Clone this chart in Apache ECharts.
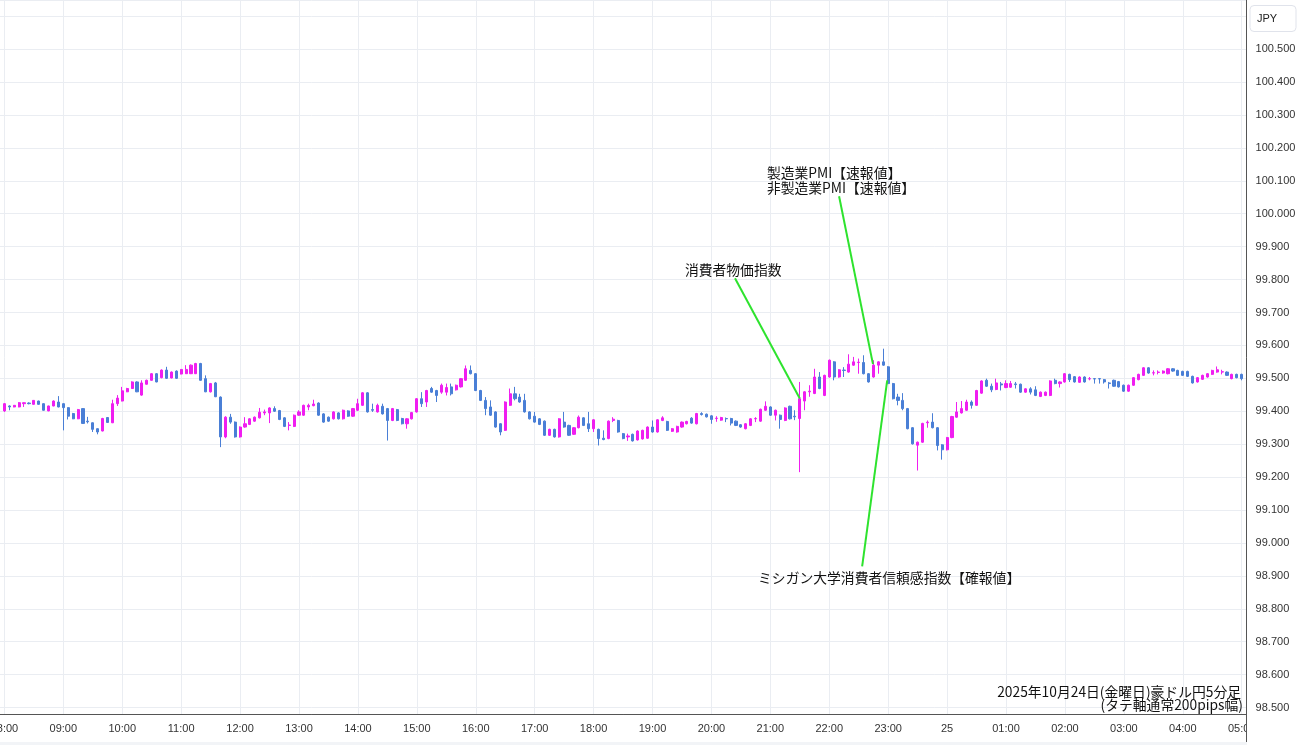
<!DOCTYPE html>
<html>
<head>
<meta charset="utf-8">
<script src="https://cdn.jsdelivr.net/npm/echarts@6/dist/echarts.min.js"></script>
<style>
  html, body { margin: 0; padding: 0; background: #fff; }
  #main { width: 1300px; height: 745px; }
</style>
</head>
<body>
<div id="main"></div>
<script>
// 豪ドル円 5分足 2025/10/24 08:00 〜 10/25 05:00 (index 0 = 08:00)
const hourLabels = ['08:00','09:00','10:00','11:00','12:00','13:00','14:00','15:00','16:00','17:00','18:00','19:00',
  '20:00','21:00','22:00','23:00','25','01:00','02:00','03:00','04:00','05:00'];

const opens = [
  99.401,99.416,99.413,99.413,99.423,99.425,99.421,99.431,99.423,99.401,99.416,99.428,
  99.423,99.411,99.393,99.377,99.408,99.370,99.365,99.347,99.340,99.381,99.365,99.423,
  99.431,99.459,99.469,99.489,99.449,99.482,99.494,99.514,99.502,99.525,99.501,99.522,
  99.513,99.514,99.514,99.514,99.545,99.499,99.459,99.486,99.443,99.322,99.382,99.367,
  99.322,99.352,99.360,99.370,99.380,99.395,99.395,99.408,99.402,99.380,99.357,99.354,
  99.388,99.388,99.413,99.417,99.425,99.392,99.382,99.377,99.395,99.377,99.401,99.385,
  99.403,99.418,99.456,99.405,99.398,99.415,99.408,99.372,99.405,99.378,99.362,99.377,
  99.398,99.438,99.428,99.469,99.463,99.458,99.458,99.474,99.465,99.474,99.494,99.524,
  99.514,99.463,99.433,99.413,99.398,99.362,99.342,99.418,99.453,99.443,99.433,99.398,
  99.385,99.377,99.370,99.327,99.345,99.322,99.367,99.357,99.330,99.350,99.380,99.362,
  99.347,99.345,99.318,99.317,99.372,99.372,99.332,99.322,99.330,99.313,99.316,99.318,
  99.352,99.337,99.372,99.369,99.339,99.337,99.352,99.362,99.379,99.362,99.393,99.391,
  99.386,99.378,99.373,99.378,99.378,99.370,99.359,99.347,99.357,99.377,99.370,99.403,
  99.413,99.388,99.388,99.372,99.415,99.385,99.378,99.431,99.459,99.454,99.504,99.448,
  99.504,99.550,99.504,99.525,99.519,99.540,99.548,99.548,99.514,99.504,99.540,99.550,
  99.535,99.484,99.443,99.433,99.408,99.350,99.297,99.306,99.365,99.367,99.350,99.298,
  99.283,99.320,99.382,99.395,99.403,99.428,99.418,99.455,99.494,99.476,99.466,99.483,
  99.472,99.473,99.483,99.482,99.458,99.468,99.465,99.445,99.448,99.448,99.494,99.484,
  99.489,99.512,99.505,99.488,99.504,99.498,99.499,99.499,99.496,99.486,99.494,99.490,
  99.479,99.461,99.479,99.496,99.509,99.532,99.516,99.518,99.516,99.514,99.529,99.524,
  99.521,99.521,99.506,99.489,99.497,99.504,99.512,99.519,99.519,99.519,99.499,99.512,
  99.512
];
const closes = [
  99.423,99.413,99.418,99.426,99.426,99.423,99.433,99.421,99.403,99.416,99.431,99.413,
  99.411,99.385,99.377,99.405,99.363,99.368,99.345,99.337,99.378,99.366,99.423,99.440,
  99.462,99.469,99.489,99.459,99.486,99.494,99.514,99.489,99.525,99.500,99.519,99.500,
  99.527,99.527,99.540,99.545,99.494,99.459,99.484,99.444,99.322,99.382,99.367,99.322,
  99.352,99.362,99.377,99.382,99.397,99.398,99.410,99.400,99.375,99.354,99.358,99.388,
  99.398,99.418,99.418,99.422,99.388,99.367,99.370,99.398,99.377,99.403,99.385,99.408,
  99.423,99.456,99.398,99.403,99.418,99.392,99.372,99.408,99.372,99.362,99.377,99.396,
  99.438,99.423,99.463,99.458,99.448,99.479,99.472,99.453,99.479,99.499,99.529,99.514,
  99.463,99.433,99.408,99.388,99.352,99.337,99.428,99.453,99.438,99.428,99.398,99.377,
  99.367,99.360,99.327,99.345,99.322,99.377,99.352,99.327,99.350,99.382,99.357,99.347,
  99.374,99.317,99.314,99.370,99.376,99.337,99.317,99.325,99.310,99.340,99.342,99.352,
  99.337,99.374,99.380,99.342,99.347,99.354,99.367,99.369,99.364,99.393,99.390,99.383,
  99.375,99.379,99.381,99.377,99.364,99.357,99.352,99.362,99.377,99.378,99.406,99.415,
  99.388,99.403,99.375,99.410,99.377,99.383,99.438,99.459,99.461,99.504,99.469,99.509,
  99.555,99.504,99.526,99.524,99.543,99.550,99.549,99.514,99.489,99.540,99.550,99.540,
  99.484,99.438,99.433,99.408,99.347,99.301,99.306,99.363,99.367,99.350,99.296,99.283,
  99.320,99.384,99.398,99.408,99.428,99.418,99.463,99.492,99.476,99.465,99.486,99.480,
  99.484,99.484,99.481,99.458,99.468,99.458,99.448,99.458,99.458,99.492,99.484,99.489,
  99.514,99.496,99.489,99.504,99.489,99.499,99.498,99.498,99.489,99.484,99.476,99.474,
  99.461,99.479,99.502,99.512,99.532,99.516,99.517,99.519,99.522,99.529,99.522,99.509,
  99.509,99.506,99.486,99.502,99.509,99.514,99.524,99.526,99.520,99.509,99.512,99.502,
  99.499
];
const lows = [
  99.398,99.403,99.412,99.412,99.413,99.421,99.420,99.420,99.402,99.400,99.415,99.412,
  99.342,99.375,99.376,99.376,99.362,99.363,99.337,99.330,99.339,99.365,99.364,99.416,
  99.430,99.458,99.468,99.458,99.447,99.481,99.493,99.488,99.500,99.498,99.500,99.498,
  99.512,99.513,99.513,99.513,99.493,99.458,99.457,99.443,99.291,99.318,99.362,99.320,
  99.320,99.350,99.358,99.368,99.378,99.388,99.364,99.398,99.373,99.352,99.342,99.352,
  99.386,99.386,99.403,99.415,99.386,99.365,99.368,99.375,99.375,99.375,99.383,99.383,
  99.401,99.416,99.396,99.398,99.396,99.390,99.311,99.370,99.370,99.360,99.347,99.375,
  99.396,99.413,99.413,99.456,99.428,99.453,99.448,99.448,99.463,99.472,99.492,99.512,
  99.461,99.431,99.388,99.386,99.350,99.327,99.340,99.416,99.433,99.426,99.396,99.375,
  99.365,99.358,99.325,99.325,99.320,99.320,99.350,99.325,99.328,99.348,99.355,99.337,
  99.337,99.296,99.312,99.315,99.367,99.335,99.315,99.310,99.308,99.311,99.314,99.316,
  99.335,99.335,99.370,99.340,99.337,99.335,99.350,99.360,99.362,99.360,99.387,99.381,
  99.362,99.368,99.371,99.367,99.357,99.355,99.350,99.345,99.355,99.367,99.368,99.401,
  99.386,99.372,99.347,99.370,99.375,99.373,99.215,99.403,99.444,99.452,99.467,99.446,
  99.502,99.494,99.502,99.504,99.517,99.538,99.514,99.512,99.487,99.502,99.514,99.538,
  99.482,99.436,99.418,99.403,99.345,99.299,99.220,99.304,99.350,99.348,99.281,99.253,
  99.281,99.318,99.380,99.393,99.401,99.408,99.416,99.453,99.474,99.458,99.464,99.463,
  99.470,99.471,99.469,99.456,99.456,99.451,99.446,99.443,99.446,99.446,99.482,99.472,
  99.487,99.489,99.487,99.486,99.487,99.494,99.484,99.484,99.484,99.469,99.474,99.472,
  99.459,99.459,99.477,99.494,99.507,99.514,99.509,99.512,99.514,99.512,99.520,99.507,
  99.507,99.504,99.484,99.487,99.495,99.502,99.510,99.517,99.512,99.507,99.497,99.500,
  99.494
];
const highs = [
  99.425,99.418,99.419,99.428,99.427,99.427,99.434,99.432,99.424,99.417,99.433,99.446,
  99.424,99.412,99.395,99.407,99.409,99.383,99.366,99.348,99.380,99.382,99.435,99.449,
  99.474,99.471,99.491,99.491,99.494,99.496,99.516,99.516,99.527,99.535,99.521,99.524,
  99.528,99.540,99.542,99.547,99.547,99.509,99.486,99.489,99.445,99.385,99.392,99.369,
  99.354,99.382,99.379,99.384,99.410,99.405,99.412,99.415,99.404,99.382,99.367,99.390,
  99.403,99.420,99.423,99.435,99.427,99.394,99.384,99.400,99.397,99.405,99.403,99.410,
  99.438,99.458,99.458,99.423,99.423,99.423,99.410,99.410,99.407,99.380,99.379,99.398,
  99.440,99.458,99.465,99.474,99.465,99.484,99.484,99.484,99.481,99.501,99.539,99.539,
  99.516,99.465,99.443,99.433,99.400,99.364,99.430,99.469,99.474,99.453,99.453,99.400,
  99.398,99.379,99.372,99.347,99.347,99.379,99.398,99.359,99.352,99.387,99.382,99.398,
  99.376,99.347,99.342,99.372,99.382,99.374,99.334,99.332,99.332,99.342,99.344,99.354,
  99.372,99.376,99.385,99.371,99.349,99.356,99.369,99.371,99.382,99.395,99.397,99.393,
  99.388,99.385,99.383,99.381,99.380,99.372,99.361,99.364,99.379,99.382,99.408,99.430,
  99.415,99.405,99.390,99.412,99.417,99.403,99.489,99.461,99.479,99.529,99.519,99.511,
  99.557,99.552,99.528,99.534,99.573,99.565,99.560,99.570,99.516,99.555,99.552,99.590,
  99.537,99.486,99.453,99.455,99.410,99.352,99.308,99.365,99.372,99.394,99.352,99.300,
  99.322,99.386,99.428,99.431,99.435,99.433,99.465,99.494,99.499,99.484,99.499,99.489,
  99.494,99.492,99.489,99.484,99.470,99.473,99.476,99.460,99.460,99.494,99.499,99.491,
  99.516,99.514,99.507,99.506,99.506,99.504,99.501,99.501,99.498,99.489,99.496,99.492,
  99.481,99.481,99.504,99.514,99.534,99.534,99.524,99.524,99.524,99.531,99.531,99.526,
  99.523,99.523,99.508,99.504,99.511,99.516,99.526,99.536,99.526,99.521,99.514,99.514,
  99.514
];

// 指標発表の注記（[足のindex, 価格]）
const annoLines = [
  [[148.8, 99.804], [162.0, 99.439]],
  [[170.0, 100.053], [176.9, 99.543]],
  [[179.8, 99.494], [174.7, 98.929]]
];
const annoTexts = [
  { text: '消費者物価指数', at: [138.6, 99.831] },
  { text: '製造業PMI【速報値】\n非製造業PMI【速報値】', at: [155.3, 100.103] },
  { text: 'ミシガン大学消費者信頼感指数【確報値】', at: [153.5, 98.894] }
];

const UP = '#f01ef0';
const DOWN = '#4a7fd6';
const GRID = '#eaedf2';
const JP = '"Noto Sans CJK JP", sans-serif';

const candles = [];
for (let i = 0; i < opens.length; i++) {
  candles.push([i, opens[i], closes[i], lows[i], highs[i]]);
}

const chart = echarts.init(document.getElementById('main'), null, { renderer: 'canvas' });
chart.setOption({
  animation: false,
  backgroundColor: '#fff',
  grid: { left: -0.5, right: 53.4, top: 0, bottom: 30.5, containLabel: false, outerBoundsMode: 'none' },
  xAxis: {
    type: 'value',
    min: -1,
    max: 253,
    minInterval: 12,
    maxInterval: 12,
    axisLine: { show: true, onZero: false, lineStyle: { color: '#555', width: 1 } },
    axisTick: { show: false },
    splitLine: { show: true, lineStyle: { color: GRID, width: 1 } },
    axisLabel: {
      color: '#333', fontSize: 11, fontFamily: '"Liberation Sans", Arial, sans-serif', margin: 9,
      hideOverlap: false,
      formatter: function (v) {
        const k = Math.round(v);
        if (k < 0 || k % 12 !== 0) return '';
        return hourLabels[k / 12] || '';
      }
    }
  },
  yAxis: {
    type: 'value',
    position: 'right',
    min: 98.479,
    max: 100.649,
    minInterval: 0.1,
    maxInterval: 0.1,
    scale: true,
    axisLine: { show: true, onZero: false, lineStyle: { color: '#555', width: 1 } },
    axisTick: { show: false },
    splitLine: { show: true, lineStyle: { color: GRID, width: 1 } },
    axisLabel: {
      color: '#333', fontSize: 11, fontFamily: '"Liberation Sans", Arial, sans-serif', margin: 9,
      formatter: function (v) {
        if (v < 98.495 || v > 100.55) return '';
        return v.toFixed(3);
      }
    }
  },
  series: [{
    type: 'candlestick',
    data: candles,
    encode: { x: 0, y: [1, 2, 3, 4] },
    barWidth: 2.6,
    itemStyle: {
      color: UP, color0: DOWN, borderColor: UP, borderColor0: DOWN, borderWidth: 1
    },
    emphasis: { disabled: true },
    markLine: {
      silent: true,
      animation: false,
      symbol: ['none', 'none'],
      label: { show: false },
      lineStyle: { color: '#2ee32e', width: 2, type: 'solid' },
      emphasis: { disabled: true },
      data: annoLines.map(function (l) { return [{ coord: l[0] }, { coord: l[1] }]; })
    },
    markPoint: {
      silent: true,
      animation: false,
      symbol: 'circle',
      symbolSize: 0,
      label: {
        show: true, position: 'right', distance: 0,
        color: '#111', fontSize: 13.8, lineHeight: 15, fontFamily: JP,
        formatter: function (p) { return p.name; }
      },
      data: annoTexts.map(function (a) { return { name: a.text, coord: a.at }; })
    }
  }],
  graphic: [
    { type: 'rect', z: 100, shape: { x: 1247, y: 715, width: 53, height: 30 }, style: { fill: '#fff' } },
    { type: 'line', z: 101, shape: { x1: 1246.5, y1: 714, x2: 1246.5, y2: 742 }, style: { stroke: '#555', lineWidth: 1 } },
    { type: 'rect', z: 99, shape: { x: 0, y: 742, width: 1300, height: 3 }, style: { fill: '#f2f4f7' } },
    { type: 'rect', z: 100, shape: { x: 1250, y: 5.5, width: 46, height: 26, r: 4 }, style: { fill: '#fff', stroke: '#e0e3eb', lineWidth: 1 } },
    { type: 'text', z: 101, x: 1257, y: 18.5, style: { text: 'JPY', font: '11px "Liberation Sans", Arial, sans-serif', fill: '#222', textAlign: 'left', align: 'left', textVerticalAlign: 'middle', verticalAlign: 'middle' } },
    { type: 'text', z: 101, x: 1241, y: 692, style: { text: '2025年10月24日(金曜日)豪ドル円5分足', font: '13.8px ' + JP, fill: '#111', textAlign: 'right', align: 'right', textVerticalAlign: 'middle', verticalAlign: 'middle' } },
    { type: 'text', z: 101, x: 1243, y: 705, style: { text: '(タテ軸通常200pips幅)', font: '13.8px ' + JP, fill: '#111', textAlign: 'right', align: 'right', textVerticalAlign: 'middle', verticalAlign: 'middle' } }
  ]
});
</script>
</body>
</html>
